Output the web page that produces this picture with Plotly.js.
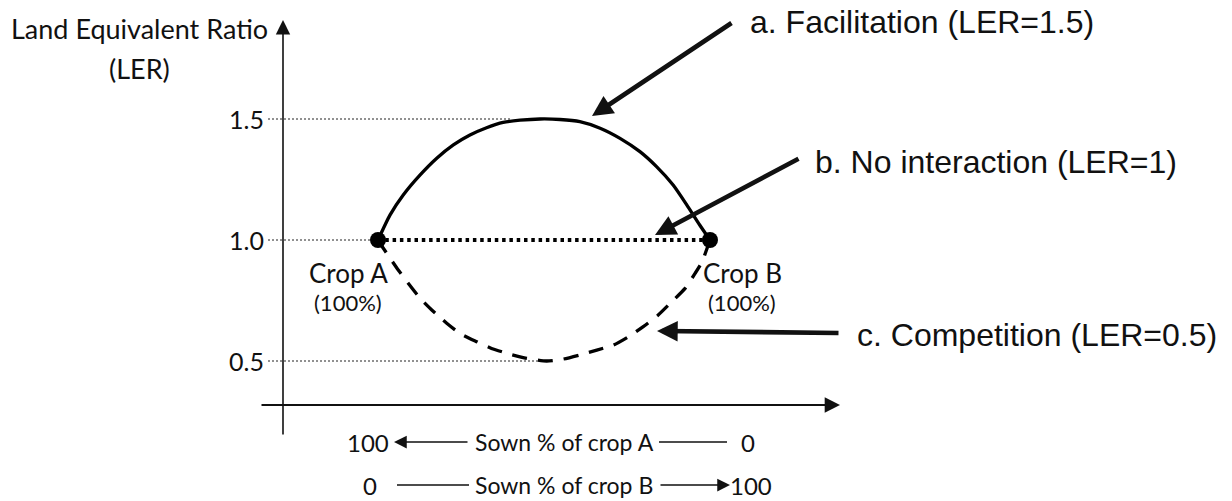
<!DOCTYPE html>
<html>
<head>
<meta charset="utf-8">
<script src="https://cdn.plot.ly/plotly-3.0.1.min.js"></script>
<style>html,body{margin:0;padding:0;background:#fff}#chart{width:1232px;height:501px}</style>
</head>
<body>
<div id="chart"></div>
<script>
// ---- data (x = sown % of crop B, y = LER) ----
const facX = [0, 3.6, 7.6, 12.7, 17.7, 22.7, 27.7, 32.7, 37.7, 42.8, 48.8, 54.8, 60.8, 66.9, 72.9, 78.9, 83.9, 88.9, 93.0, 96.9, 100];
const facY = [1, 1.103, 1.186, 1.269, 1.338, 1.393, 1.434, 1.464, 1.486, 1.495, 1.5, 1.498, 1.489, 1.462, 1.420, 1.365, 1.303, 1.227, 1.145, 1.062, 1];
const compX = [0, 1.6, 6.1, 9.1, 12.7, 16.2, 20.7, 24.7, 29.7, 34.2, 39.8, 44.8, 50.8, 55.8, 60.8, 65.9, 70.9, 75.4, 79.9, 84.4, 88.5, 92.5, 95.5, 97.6, 100];
const compY = [1, 0.966, 0.876, 0.821, 0.759, 0.711, 0.656, 0.614, 0.580, 0.552, 0.528, 0.511, 0.5, 0.508, 0.525, 0.545, 0.566, 0.600, 0.642, 0.690, 0.745, 0.800, 0.862, 0.910, 1];
const noX = [0, 100];
const noY = [1, 1];
const cropX = [0, 100];
const cropY = [1, 1];
const cropNames = ["Crop A", "Crop B"];
const cropPct = ["(100%)", "(100%)"];
const yTickVals = [0.5, 1.0, 1.5];
const yTickText = ["0.5", "1.0", "1.5"];
const guideEndX = [51, 0, 40];
const labelTexts = ["a. Facilitation (LER=1.5)", "b. No interaction (LER=1)", "c. Competition (LER=0.5)"];
const yTitle = ["Land Equivalent Ratio", "(LER)"];
const rowA = ["100", "Sown % of crop A", "0"];
const rowB = ["0", "Sown % of crop B", "100"];

// ---- layout helpers: pixel -> data position on the invisible axes ----
const W = 1232, H = 501;
const PX0 = 378, PXS = 3.32, PY1 = 240, PYS = 242;
const X = px => (px - PX0) / PXS;
const Y = py => 1 - (py - PY1) / PYS;
const DX = dpx => dpx / PXS;

const MY = "Lato, 'Liberation Sans', sans-serif";
const HV = "'Liberation Sans', Arial, sans-serif";

const traces = [
  {x: facX, y: facY, mode: 'lines', line: {color: '#000', width: 3.3, shape: 'spline', smoothing: 0.6}, hoverinfo: 'skip'},
  {x: compX, y: compY, mode: 'lines', line: {color: '#000', width: 3.3, shape: 'spline', smoothing: 0.6, dash: '15px,11px'}, hoverinfo: 'skip'},
  {x: noX, y: noY, mode: 'lines', line: {color: '#000', width: 4, dash: '3.5px,3.8px'}, hoverinfo: 'skip'},
  {x: cropX, y: cropY, mode: 'markers', marker: {color: '#000', size: 16}, hoverinfo: 'skip'}
];

const ann = [];
function txt(text, x, y, size, font, xanchor, color) {
  ann.push({text: text, x: x, y: y, xref: 'x', yref: 'y', showarrow: false,
    xanchor: xanchor || 'center', yanchor: 'middle',
    font: {size: size, family: font, color: color || '#111'}});
}
function arrow(tx, ty, fx, fy, w, size) {
  ann.push({text: '', x: X(tx), y: Y(ty), ax: X(fx), ay: Y(fy), xref: 'x', yref: 'y', axref: 'x', ayref: 'y',
    showarrow: true, arrowhead: 2, arrowwidth: w, arrowsize: size, arrowcolor: '#111', standoff: 0});
}

// y-axis title
txt(yTitle[0], X(139), Y(28), 27, MY);
txt(yTitle[1], X(139), Y(68), 27, MY);
// y tick labels
yTickVals.forEach((v, i) => txt(yTickText[i], X(266), v, 25, MY, 'right'));
// crop labels (A: left of its point, B: right of its point)
const cropOff = [-30, 32];
cropX.forEach((v, i) => {
  txt(cropNames[i], v + DX(cropOff[i]), Y(273), 26, MY);
  txt(cropPct[i], v + DX(cropOff[i]), Y(302), 22, MY);
});
// a/b/c labels
txt(labelTexts[0], X(748), Y(22), 32, HV, 'left');
txt(labelTexts[1], X(813), Y(162), 32, HV, 'left');
txt(labelTexts[2], X(855), Y(335), 32, HV, 'left');
// a/b/c arrows
arrow(592, 116, 733, 22, 4.6, 0.9);
arrow(655, 235, 800, 158, 4.6, 0.9);
arrow(657, 331, 840, 333, 4.6, 0.9);
// axes (lines with arrowheads)
arrow(283, 20, 283, 436, 1.6, 1.8);
arrow(840, 405, 260, 405, 1.8, 1.7);
// bottom rows
txt(rowA[0], X(368), Y(442), 24, MY);
txt(rowA[1], X(564), Y(442), 23, MY);
txt(rowA[2], X(748), Y(442), 24, MY);
arrow(394, 442, 469, 442, 1.5, 1.7);
txt(rowB[0], X(370), Y(485), 24, MY);
txt(rowB[1], X(564), Y(485), 23, MY);
txt(rowB[2], X(751), Y(485), 24, MY);
arrow(730, 485, 659, 485, 1.5, 1.7);

const shapes = [];
// guide lines at the tick values
yTickVals.forEach((v, i) => shapes.push({type: 'line', xref: 'x', yref: 'y', x0: X(268), x1: guideEndX[i], y0: v, y1: v,
  line: {color: '#222', width: 1, dash: '2px,2px'}, layer: 'below'}));
// plain connector lines in the bottom rows
shapes.push({type: 'line', xref: 'x', yref: 'y', x0: X(659), x1: X(727), y0: Y(442), y1: Y(442), line: {color: '#111', width: 1.5}});
shapes.push({type: 'line', xref: 'x', yref: 'y', x0: X(397), x1: X(469), y0: Y(485), y1: Y(485), line: {color: '#111', width: 1.5}});

const layout = {
  width: W, height: H,
  margin: {l: 0, r: 0, t: 0, b: 0},
  paper_bgcolor: '#fff', plot_bgcolor: '#fff',
  showlegend: false,
  xaxis: {range: [X(0), X(W)], visible: false, fixedrange: true},
  yaxis: {range: [Y(H), Y(0)], visible: false, fixedrange: true},
  annotations: ann,
  shapes: shapes
};

Plotly.newPlot('chart', traces, layout, {displayModeBar: false, staticPlot: true});
</script>
</body>
</html>
